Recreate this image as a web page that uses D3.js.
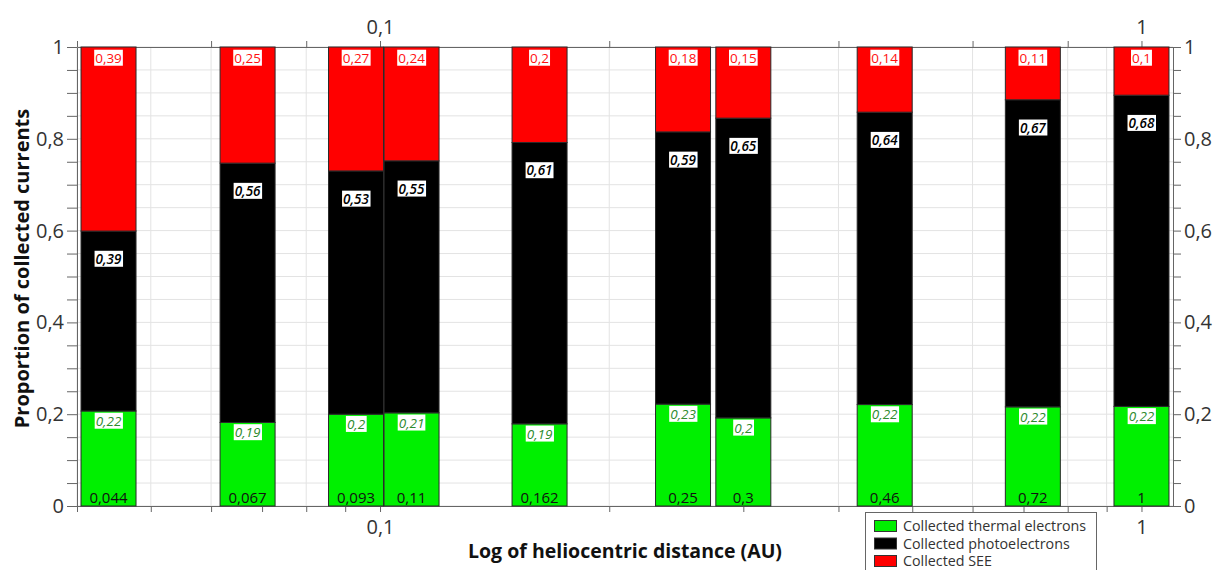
<!DOCTYPE html>
<html><head><meta charset="utf-8">
<script src="https://cdn.jsdelivr.net/npm/d3@7"></script>
<style>
body{margin:0;background:#fff}
svg{display:block}
text{font-family:"Open Sans","DejaVu Sans",sans-serif}
</style>
</head><body><svg id="c" width="1215" height="570"></svg>
<script>
// ---- data ----
const distances = [0.044, 0.067, 0.093, 0.11, 0.162, 0.25, 0.3, 0.46, 0.72, 1];
const distanceLabels = ["0,044", "0,067", "0,093", "0,11", "0,162", "0,25", "0,3", "0,46", "0,72", "1"];
const thermal = [0.207, 0.182, 0.200, 0.203, 0.179, 0.222, 0.192, 0.221, 0.216, 0.217];
const photo   = [0.392, 0.565, 0.530, 0.549, 0.613, 0.593, 0.653, 0.637, 0.669, 0.678];
const see     = [0.401, 0.253, 0.270, 0.248, 0.208, 0.185, 0.155, 0.142, 0.115, 0.105];
const thermalLabels = ["0,22", "0,19", "0,2", "0,21", "0,19", "0,23", "0,2", "0,22", "0,22", "0,22"];
const photoLabels   = ["0,39", "0,56", "0,53", "0,55", "0,61", "0,59", "0,65", "0,64", "0,67", "0,68"];
const seeLabels     = ["0,39", "0,25", "0,27", "0,24", "0,2", "0,18", "0,15", "0,14", "0,11", "0,1"];
const seriesNames = ["Collected thermal electrons", "Collected photoelectrons", "Collected SEE"];
const seriesColors = ["#00f000", "#000000", "#ff0000"];
const yLabelTicks = [0, 0.2, 0.4, 0.6, 0.8, 1];
const xDomain = [0.04, 1.1];
const xLabelTicks = [0.1, 1];
const xLabelTexts = ["0,1", "1"];
const yTitle = "Proportion of collected currents";
const xTitle = "Log of heliocentric distance (AU)";

// ---- layout ----
const L = 77, R = 1173, T = 47, B = 506;
const barW = 55;
const svg = d3.select("#c");
const x = d3.scaleLog().domain(xDomain).range([L, R]);
const y = d3.scaleLinear().domain([0, 1]).range([B, T]);
const comma = v => String(v).replace(".", ",");

const xTicksAll = x.ticks();
const mant = v => Math.round(v / Math.pow(10, Math.floor(Math.log10(v) + 1e-9)));
const xTicksTop = xTicksAll.filter(v => mant(v) % 2 === 0 || mant(v) === 1);
const yMinor = d3.range(0, 1.0001, 0.05);

// grid
const grid = svg.append("g");
grid.selectAll("line.h").data(yMinor).join("line")
  .attr("x1", L).attr("x2", R).attr("y1", d => y(d)).attr("y2", d => y(d))
  .attr("stroke", "#e3e3e3").attr("stroke-width", 1);
grid.selectAll("line.v").data(xTicksAll).join("line")
  .attr("x1", d => x(d)).attr("x2", d => x(d)).attr("y1", T).attr("y2", B)
  .attr("stroke", "#e3e3e3").attr("stroke-width", 1);

// axes
const axCol = "#666";
const styleAxis = g => {
  g.selectAll(".domain").attr("stroke", axCol);
  g.selectAll(".tick line").attr("stroke", axCol);
  g.selectAll(".tick text").attr("fill", "#333").style("font-size", "20px");
};
const yFmt = d => yLabelTicks.some(t => Math.abs(t - d) < 1e-9) ? comma(+d.toFixed(1)) : "";
const xFmt = d => { const i = xLabelTicks.findIndex(t => Math.abs(t - d) < 1e-9); return i >= 0 ? xLabelTexts[i] : ""; };
const yL = svg.append("g").attr("transform", `translate(${L},0)`)
  .call(d3.axisLeft(y).tickValues(yMinor).tickSize(10).tickSizeOuter(0).tickFormat(yFmt));
styleAxis(yL);
const yR = svg.append("g").attr("transform", `translate(${R},0)`)
  .call(d3.axisRight(y).tickValues(yMinor).tickSize(8).tickSizeOuter(0).tickFormat(yFmt));
styleAxis(yR);
const xB = svg.append("g").attr("transform", `translate(0,${B})`)
  .call(d3.axisBottom(x).tickValues(xTicksAll).tickSize(6).tickSizeOuter(0).tickFormat(xFmt));
styleAxis(xB);
xB.selectAll(".tick text").attr("dy", "0.95em");
const xT = svg.append("g").attr("transform", `translate(0,${T})`)
  .call(d3.axisTop(x).tickValues(xTicksTop).tickSize(6).tickSizeOuter(0).tickFormat(xFmt));
styleAxis(xT);
xT.selectAll(".tick text").attr("dy", "-0.2em");

// bars
const rows = distances.map((d, i) => ({ d, i, g: thermal[i], p: photo[i], s: see[i] }));
const bars = svg.append("g");
rows.forEach(r => {
  const cx = x(r.d), x0 = cx - barW / 2;
  const segs = [[0, r.g, 0], [r.g, r.g + r.p, 1], [r.g + r.p, r.g + r.p + r.s, 2]];
  segs.forEach(([a, b, k]) => {
    bars.append("rect").attr("x", x0).attr("width", barW)
      .attr("y", y(b)).attr("height", y(a) - y(b))
      .attr("fill", seriesColors[k]).attr("stroke", "#2a2a2a").attr("stroke-width", 1);
  });
});

// value labels
const lab = svg.append("g");
function boxLabel(cx, cy, txt, color, italic, weight) {
  const g = lab.append("g");
  const t = g.append("text").attr("x", cx).attr("y", cy).attr("dy", "0.35em")
    .attr("text-anchor", "middle").attr("fill", color)
    .style("font-size", "13.5px").style("font-style", italic ? "italic" : "normal")
    .style("font-weight", weight).text(txt);
  const bb = t.node().getBBox();
  g.insert("rect", "text").attr("x", bb.x - 1).attr("y", bb.y + 1)
    .attr("width", bb.width + 2).attr("height", bb.height - 2).attr("fill", "#fff");
}
rows.forEach(r => {
  const cx = x(r.d);
  boxLabel(cx, y(1) + 11, seeLabels[r.i], "#ff1010", false, 400);
  boxLabel(cx, y(r.g + r.p) + 28, photoLabels[r.i], "#000", true, 600);
  boxLabel(cx, y(r.g) + 10, thermalLabels[r.i], "#2e8b2e", true, 400);
  lab.append("text").attr("x", cx).attr("y", B - 3).attr("text-anchor", "middle")
    .attr("fill", "#111").style("font-size", "15px").text(distanceLabels[r.i]);
});

// titles
svg.append("text").attr("transform", `translate(29,${(T + B) / 2 - 8}) rotate(-90)`)
  .attr("text-anchor", "middle").style("font-size", "20px").style("font-weight", "700")
  .attr("fill", "#111").text(yTitle);
svg.append("text").attr("x", (L + R) / 2).attr("y", 558)
  .attr("text-anchor", "middle").style("font-size", "19.5px").style("font-weight", "700")
  .attr("fill", "#111").text(xTitle);

// legend
const lg = svg.append("g").attr("transform", "translate(865,512)");
lg.append("rect").attr("x", 0.5).attr("y", 0.5).attr("width", 231).attr("height", 70)
  .attr("fill", "#fff").attr("stroke", "#666");
seriesNames.forEach((n, k) => {
  const yy = 14 + k * 17.5;
  lg.append("rect").attr("x", 9.5).attr("y", yy - 5.5).attr("width", 22).attr("height", 11)
    .attr("fill", seriesColors[k]).attr("stroke", "#333");
  lg.append("text").attr("x", 38).attr("y", yy).attr("dy", "0.35em")
    .style("font-size", "14.3px").attr("fill", "#333").text(n);
});
</script>
</body></html>
